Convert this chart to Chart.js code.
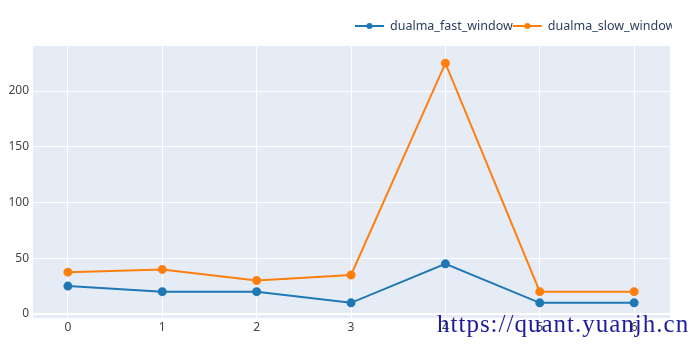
<!DOCTYPE html>
<html>
<head>
<meta charset="utf-8">
<script src="https://cdn.jsdelivr.net/npm/chart.js@4"></script>
<style>
  html, body { margin: 0; padding: 0; background: #fff; }
  #wrap { position: relative; width: 700px; height: 350px; overflow: hidden; }
  #mark {
    position: absolute; left: 437px; top: 311px;
    font-family: "Liberation Serif", "DejaVu Serif", serif;
    font-size: 25px; line-height: 25px; letter-spacing: 1px;
    color: #1c1c9c; white-space: nowrap;
  }
</style>
</head>
<body>
<div id="wrap">
  <canvas id="chart" width="700" height="350"></canvas>
  <div id="mark">https://quant.yuanjh.cn</div>
</div>
<script>
// datos
const indices = [0, 1, 2, 3, 4, 5, 6];
const fastWindow = [25, 20, 20, 10, 45, 10, 10];
const slowWindow = [37.5, 40, 30, 35, 225, 20, 20];
const yTicks = [0, 50, 100, 150, 200];

const azul = '#1f77b4';
const naranja = '#ff7f0e';

// fondo del area del grafico, estilo plotly
const fondoPlot = {
    id: 'fondoPlot',
    beforeDraw(chart) {
        const { ctx, chartArea: a } = chart;
        ctx.save();
        ctx.fillStyle = '#E5ECF6';
        ctx.fillRect(a.left, a.top, a.right - a.left, a.bottom - a.top);
        ctx.restore();
    }
};

// leyenda horizontal arriba a la derecha (linea + punto), recortada como en la imagen
const leyenda = {
    id: 'leyenda',
    afterDraw(chart) {
        const ctx = chart.ctx;
        ctx.save();
        ctx.beginPath();
        ctx.rect(0, 0, 672, 60);
        ctx.clip();
        ctx.font = '12.5px "Noto Sans", sans-serif';
        ctx.textBaseline = 'middle';
        let x = 355;
        const y = 26;
        chart.data.datasets.forEach(ds => {
            ctx.strokeStyle = ds.borderColor;
            ctx.lineWidth = 2;
            ctx.beginPath();
            ctx.moveTo(x, y);
            ctx.lineTo(x + 29, y);
            ctx.stroke();
            ctx.fillStyle = ds.borderColor;
            ctx.beginPath();
            ctx.arc(x + 14.5, y, 3, 0, Math.PI * 2);
            ctx.fill();
            ctx.fillStyle = '#2a3f5f';
            ctx.fillText(ds.label, x + 35, y);
            x += 35 + ctx.measureText(ds.label).width;
        });
        ctx.restore();
    }
};

const serie = (vals) => indices.map((x, i) => ({ x: x, y: vals[i] }));

new Chart(document.getElementById('chart').getContext('2d'), {
    type: 'line',
    data: {
        datasets: [
            {
                label: 'dualma_fast_window',
                data: serie(fastWindow),
                borderColor: azul,
                backgroundColor: azul,
                borderWidth: 2,
                pointRadius: 3.5,
                tension: 0
            },
            {
                label: 'dualma_slow_window',
                data: serie(slowWindow),
                borderColor: naranja,
                backgroundColor: naranja,
                borderWidth: 2,
                pointRadius: 3.5,
                tension: 0
            }
        ]
    },
    options: {
        responsive: false,
        animation: false,
        layout: { padding: { top: 46, right: 30, left: 0, bottom: 0 } },
        plugins: {
            legend: { display: false },
            tooltip: { enabled: false }
        },
        scales: {
            x: {
                type: 'linear',
                min: -0.37,
                max: 6.38,
                border: { display: false },
                grid: { color: '#ffffff', lineWidth: 1, drawTicks: false },
                afterFit: s => { s.height = 32; },
                ticks: {
                    stepSize: 1,
                    includeBounds: false,
                    padding: 2,
                    color: '#444',
                    font: { family: '"Noto Sans", sans-serif', size: 12 }
                }
            },
            y: {
                min: -3.6,
                max: 240.4,
                border: { display: false },
                grid: {
                    color: '#ffffff',
                    lineWidth: ctx => (ctx.tick && ctx.tick.value === 0 ? 2 : 1),
                    drawTicks: false
                },
                afterFit: s => { s.width = 33; },
                afterBuildTicks: s => { s.ticks = yTicks.map(v => ({ value: v })); },
                ticks: {
                    padding: 4,
                    color: '#444',
                    font: { family: '"Noto Sans", sans-serif', size: 12 }
                }
            }
        }
    },
    plugins: [fondoPlot, leyenda]
});
</script>
</body>
</html>
